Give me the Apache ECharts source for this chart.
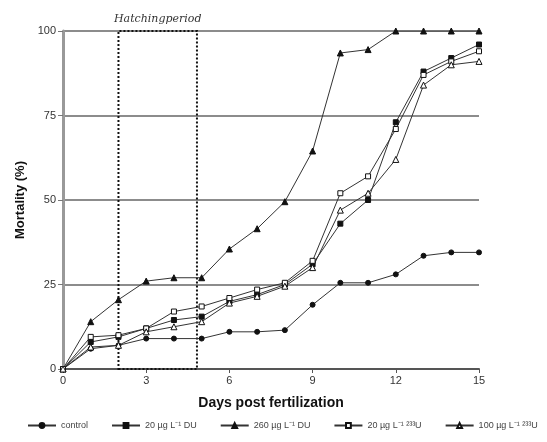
<!DOCTYPE html>
<html>
<head>
<meta charset="utf-8">
<script src="https://cdn.jsdelivr.net/npm/echarts@6/dist/echarts.min.js"></script>
<style>
  html, body { margin: 0; padding: 0; background: #fff; }
  #chart { width: 547px; height: 442px; }
</style>
</head>
<body>
<div id="chart"></div>
<script>
// Days post fertilization
const days = [0, 1, 2, 3, 4, 5, 6, 7, 8, 9, 10, 11, 12, 13, 14, 15];

// Cumulative mortality (%) per treatment
const control   = [0, 6, 7, 9, 9, 9, 11, 11, 11.5, 19, 25.5, 25.5, 28, 33.5, 34.5, 34.5];
const du20      = [0, 8, 9.5, 12, 14.5, 15.5, 20, 22, 25, 31, 43, 50, 73, 88, 92, 96];
const du260     = [0, 14, 20.5, 26, 27, 27, 35.5, 41.5, 49.5, 64.5, 93.5, 94.5, 100, 100, 100, 100];
const u233_20   = [0, 9.5, 10, 12, 17, 18.5, 21, 23.5, 25.5, 32, 52, 57, 71, 87, 91, 94];
const u233_100  = [0, 6.5, 7, 11, 12.5, 14, 19.5, 21.5, 24.5, 30, 47, 52, 62, 84, 90, 91];

// Hatching period (days)
const hatchStart = 2;
const hatchEnd = 4.83;

const seriesDefs = [
  { name: 'control', data: control, symbol: 'circle', filled: true },
  { name: '20 µg L⁻¹ DU', data: du20, symbol: 'rect', filled: true },
  { name: '260 µg L⁻¹ DU', data: du260, symbol: 'triangle', filled: true },
  { name: '20 µg L⁻¹ ²³³U', data: u233_20, symbol: 'rect', filled: false },
  { name: '100 µg L⁻¹ ²³³U', data: u233_100, symbol: 'triangle', filled: false }
];

const series = seriesDefs.map(function (d) {
  return {
    name: d.name,
    type: 'line',
    data: days.map(function (x, i) { return [x, d.data[i]]; }),
    symbol: d.symbol,
    symbolSize: d.symbol === 'triangle' ? 6 : 5,
    lineStyle: { color: '#333', width: 1 },
    itemStyle: {
      color: d.filled ? '#111' : '#fff',
      borderColor: '#111',
      borderWidth: 1
    },
    emphasis: { disabled: true },
    z: 3
  };
});

// Hatching period box
series.push({
  type: 'line',
  data: [],
  silent: true,
  markArea: {
    silent: true,
    itemStyle: {
      color: 'rgba(0,0,0,0)',
      borderColor: '#111',
      borderWidth: 2,
      borderType: [2, 2]
    },
    label: {
      show: true,
      position: 'top',
      distance: 5,
      formatter: 'Hatchingperiod',
      fontFamily: 'DejaVu Serif',
      fontStyle: 'italic',
      fontSize: 11,
      color: '#333'
    },
    data: [[{ coord: [hatchStart, 0] }, { coord: [hatchEnd, 100] }]]
  },
  z: 2
});

const chart = echarts.init(document.getElementById('chart'), null, { renderer: 'canvas' });
chart.setOption({
  animation: false,
  backgroundColor: '#fff',
  grid: { left: 63, right: 68, top: 31, bottom: 73 },
  legend: {
    bottom: 7,
    left: 22,
    itemGap: 23,
    itemWidth: 28,
    itemHeight: 6,
    textStyle: { fontSize: 9, color: '#444', fontFamily: 'Liberation Sans' },
    data: seriesDefs.map(function (d) { return d.name; })
  },
  xAxis: {
    type: 'value',
    min: 0,
    max: 15,
    interval: 3,
    name: 'Days post fertilization',
    nameLocation: 'middle',
    nameGap: 27,
    nameTextStyle: { fontSize: 14, fontWeight: 'bold', color: '#111', fontFamily: 'Liberation Sans' },
    axisLine: { lineStyle: { color: '#555', width: 2 } },
    axisTick: { show: true, length: 4, lineStyle: { color: '#555' } },
    axisLabel: { fontSize: 11, color: '#333', fontFamily: 'Liberation Sans', margin: 6 },
    splitLine: { show: false }
  },
  yAxis: {
    type: 'value',
    min: 0,
    max: 100,
    interval: 25,
    name: 'Mortality (%)',
    nameLocation: 'middle',
    nameGap: 36,
    nameTextStyle: { fontSize: 13, fontWeight: 'bold', color: '#111', fontFamily: 'Liberation Sans' },
    axisLine: { lineStyle: { color: '#999', width: 3 } },
    axisTick: { show: true, length: 5, lineStyle: { color: '#777' } },
    axisLabel: { fontSize: 11, color: '#333', fontFamily: 'Liberation Sans', margin: 7 },
    splitLine: { show: true, lineStyle: { color: '#666', width: 1.5 } }
  },
  series: series
});
</script>
</body>
</html>
